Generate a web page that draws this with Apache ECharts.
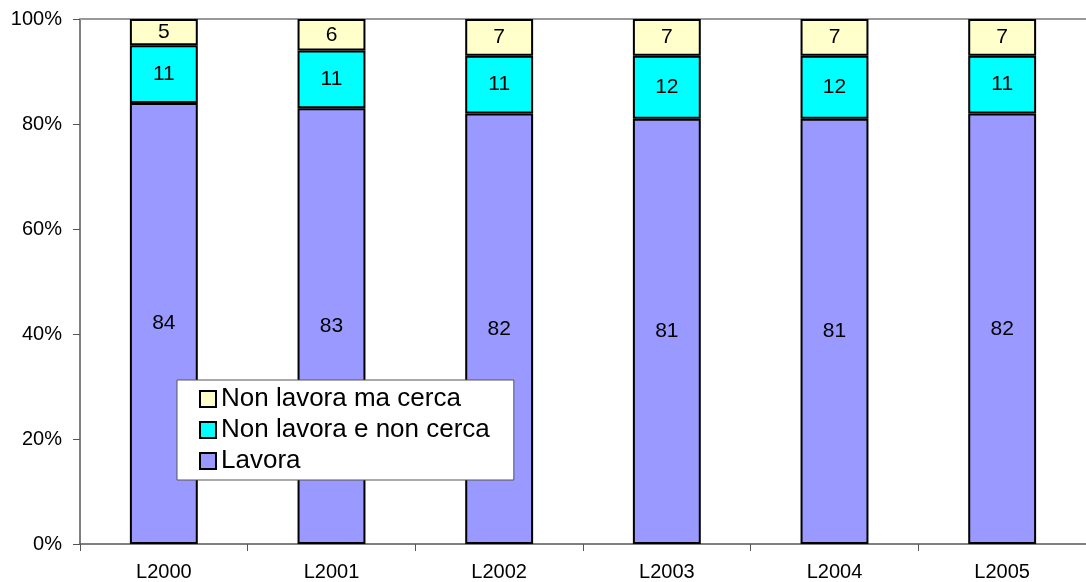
<!DOCTYPE html>
<html>
<head>
<meta charset="utf-8">
<script src="https://cdn.jsdelivr.net/npm/echarts@6/dist/echarts.min.js"></script>
<style>
  html, body { margin: 0; padding: 0; background: #fff; }
  #chart { width: 1086px; height: 582px; }
</style>
</head>
<body>
<div id="chart"></div>
<script>
// Categories and stacked shares (percent)
const categories = ['L2000', 'L2001', 'L2002', 'L2003', 'L2004', 'L2005'];
const lavora = [84, 83, 82, 81, 81, 82];
const nonLavoraNonCerca = [11, 11, 11, 12, 12, 11];
const nonLavoraCerca = [5, 6, 7, 7, 7, 7];
const yTicks = [0, 20, 40, 60, 80, 100];

const FONT = '"Liberation Sans", Arial, sans-serif';

function barSeries(name, data, color) {
  return {
    name: name,
    type: 'bar',
    stack: 'total',
    data: data,
    barWidth: '40.5%',
    itemStyle: { color: color, borderColor: '#000', borderWidth: 2 },
    label: {
      show: true,
      position: 'inside',
      color: '#000',
      fontFamily: FONT,
      fontSize: 21
    },
    emphasis: { disabled: true }
  };
}

const chart = echarts.init(document.getElementById('chart'));
chart.setOption({
  animation: false,
  backgroundColor: '#fff',
  grid: { left: 80, right: 0, top: 19, bottom: 37, containLabel: false },
  legend: {
    orient: 'vertical',
    left: 177,
    top: 380,
    data: ['Non lavora ma cerca', 'Non lavora e non cerca', 'Lavora'],
    icon: 'rect',
    itemWidth: 16,
    itemHeight: 16,
    itemGap: 5,
    padding: [6, 24, 6, 22],
    backgroundColor: '#fff',
    borderColor: '#555',
    borderWidth: 1,
    borderRadius: 0,
    itemStyle: { borderColor: '#000', borderWidth: 2 },
    textStyle: { fontFamily: FONT, fontSize: 26, color: '#000' }
  },
  xAxis: [
    {
      type: 'category',
      data: categories,
      axisLine: { show: true, lineStyle: { color: '#555', width: 1.5 } },
      axisTick: { show: true, alignWithLabel: false, length: 7, lineStyle: { color: '#555' } },
      axisLabel: { fontFamily: FONT, fontSize: 20, color: '#000', margin: 18 }
    },
    {
      // top border line at 100%
      type: 'category',
      position: 'top',
      data: categories,
      axisLine: { show: true, lineStyle: { color: '#999', width: 2 } },
      axisTick: { show: false },
      axisLabel: { show: false }
    }
  ],
  yAxis: {
    type: 'value',
    min: yTicks[0],
    max: yTicks[yTicks.length - 1],
    interval: 20,
    axisLine: { show: true, lineStyle: { color: '#555', width: 1.5 } },
    axisTick: { show: true, length: 7, lineStyle: { color: '#555' } },
    splitLine: { show: false },
    axisLabel: {
      fontFamily: FONT, fontSize: 20, color: '#000', margin: 18,
      formatter: v => v + '%'
    }
  },
  series: [
    barSeries('Lavora', lavora, '#9999ff'),
    barSeries('Non lavora e non cerca', nonLavoraNonCerca, '#00ffff'),
    barSeries('Non lavora ma cerca', nonLavoraCerca, '#ffffcc')
  ]
});
</script>
</body>
</html>
